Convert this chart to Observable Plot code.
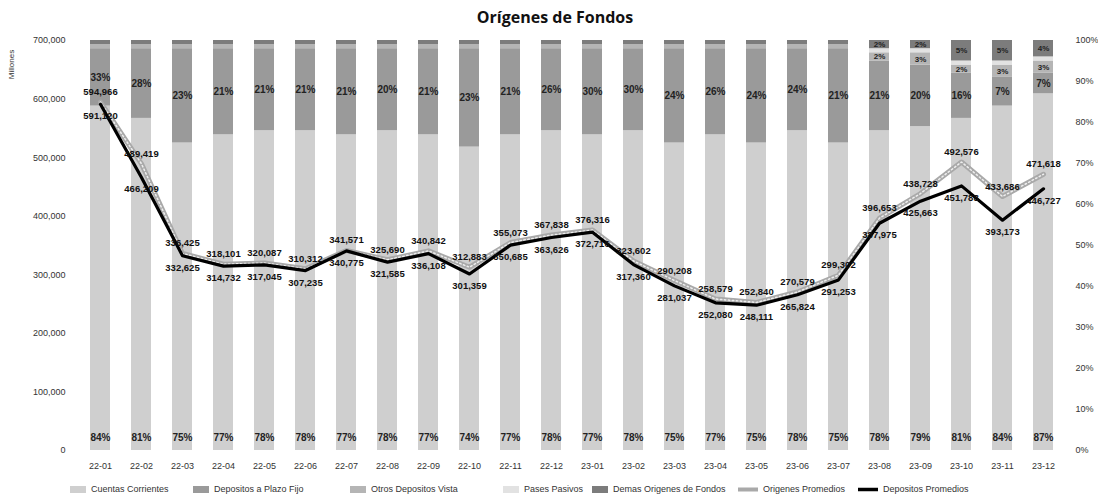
<!DOCTYPE html>
<html><head><meta charset="utf-8">
<script src="https://cdn.jsdelivr.net/npm/d3@7"></script>
<script src="https://cdn.jsdelivr.net/npm/@observablehq/plot@0.6"></script>
<style>
body{margin:0;background:#fff;font-family:"Liberation Sans",Arial,sans-serif;}
#wrap{position:relative;width:1098px;height:502px;overflow:hidden;}
#title{position:absolute;top:6px;left:0;width:1110px;text-align:center;font:bold 16px "Open Sans",sans-serif;color:#111;}
#chart{position:absolute;top:32px;left:0;}
#legend{position:absolute;top:482px;left:0;width:1098px;height:18px;font-size:9px;color:#333;}
.item{position:absolute;top:2px;display:flex;align-items:center;gap:5px;white-space:nowrap;}
</style></head><body>
<div id="wrap">
<div id="title">Orígenes de Fondos</div>
<div id="chart"></div>
<div id="legend"></div>
</div>
<script>
const months = ["22-01","22-02","22-03","22-04","22-05","22-06","22-07","22-08","22-09","22-10","22-11","22-12","23-01","23-02","23-03","23-04","23-05","23-06","23-07","23-08","23-09","23-10","23-11","23-12"];
// stacked shares (%)
const cuentasCorrientes   = [84,81,75,77,78,78,77,78,77,74,77,78,77,78,75,77,75,78,75,78,79,81,84,87];
const depositosPlazoFijo  = [14,17,23,21,20,20,21,20,21,24,21,20,21,20,23,21,23,20,23,17,15,11, 7, 5];
const otrosDepositosVista = [ 1, 1, 1, 1, 1, 1, 1, 1, 1, 1, 1, 1, 1, 1, 1, 1, 1, 1, 1, 2, 3, 2, 3, 3];
const pasesPasivos        = [ 0, 0, 0, 0, 0, 0, 0, 0, 0, 0, 0, 0, 0, 0, 0, 0, 0, 0, 0, 1, 1, 1, 1, 1];
const demasOrigenes       = [ 1, 1, 1, 1, 1, 1, 1, 1, 1, 1, 1, 1, 1, 1, 1, 1, 1, 1, 1, 2, 2, 5, 5, 4];
const topLabels = ["33%","28%","23%","21%","21%","21%","21%","20%","21%","23%","21%","26%","30%","30%","24%","26%","24%","24%","21%","21%","20%","16%","7%","7%"];
// averages (millions)
const origenesPromedios   = [594966,489419,336425,318101,320087,310312,341571,325690,340842,312883,355073,367838,376316,323602,290208,258579,252840,270579,299302,396653,438728,492576,433686,471618];
const depositosPromedios  = [591120,466209,332625,314732,317045,307235,340775,321585,336108,301359,350685,363626,372716,317360,281037,252080,248111,265824,291253,387975,425663,451788,393173,446727];

const seriesNames  = ["Cuentas Corrientes","Depositos a Plazo Fijo","Otros Depositos Vista","Pases Pasivos","Demas Origenes de Fondos"];
const seriesColors = ["#cfcfcf","#9a9a9a","#b5b5b5","#e2e2e2","#7c7c7c"];
const leftTicks  = [0,100000,200000,300000,400000,500000,600000,700000];
const rightTicks = [0,10,20,30,40,50,60,70,80,90,100];

const K = 7000; // 100% == 700,000 on the shared vertical scale
const shares = [cuentasCorrientes, depositosPlazoFijo, otrosDepositosVista, pasesPasivos, demasOrigenes];
const rows = months.flatMap((m,i) => shares.map((arr,k) => ({month:m, series:seriesNames[k], pct:arr[i], idx:i, k})));
const cum = (i,k) => shares.slice(0,k).reduce((s,a)=>s+a[i],0);
const smallLabels = rows.filter(r => (r.k===2 || r.k===4) && r.pct >= 2);
const fmt = d3.format(",");
const idx = months.map((m,i)=>i);

const chart = Plot.plot({
  width:1098, height:448,
  marginLeft:75, marginRight:30, marginTop:8, marginBottom:30,
  x:{domain:months, paddingInner:0.52, paddingOuter:0.2, axis:null},
  y:{domain:[0,700000], axis:null},
  color:{domain:seriesNames, range:seriesColors},
  style:{fontFamily:"'Liberation Sans', Arial, sans-serif", fontSize:"9px", color:"#333", background:"white"},
  marks:[
    Plot.barY(rows, {x:"month", y:d=>d.pct*K, fill:"series"}),
    Plot.axisX({tickSize:0, tickPadding:12, fontSize:9, label:null}),
    Plot.axisY({ticks:leftTicks, tickFormat:fmt, tickSize:0, tickPadding:10, label:null}),
    Plot.axisY({anchor:"right", ticks:rightTicks.map(t=>t*K), tickFormat:d=>Math.round(d/K)+"%", tickSize:0, tickPadding:7, label:null}),
    Plot.text(["Millones"], {frameAnchor:"top-left", dx:-64, dy:24, rotate:-90, textAnchor:"middle", lineAnchor:"middle", fontSize:8, fill:"#333"}),
    // bar labels
    Plot.text(idx, {x:i=>months[i], y:()=>3*K, text:i=>cuentasCorrientes[i]+"%", fontWeight:"bold", fontSize:10, fill:"#222"}),
    Plot.text(idx, {x:i=>months[i], y:i=>(cum(i,1)+depositosPlazoFijo[i]/2)*K, text:i=>topLabels[i], fontWeight:"bold", fontSize:10, fill:"#222"}),
    Plot.text(smallLabels, {x:"month", y:r=>(cum(r.idx,r.k)+r.pct/2)*K, text:r=>r.pct+"%", fontWeight:"bold", fontSize:8, fill:"#222"}),
    // lines
    Plot.line(idx, {x:i=>months[i], y:i=>origenesPromedios[i], stroke:"#a9a9a9", strokeWidth:5}),
    Plot.line(idx, {x:i=>months[i], y:i=>origenesPromedios[i], stroke:"#eeeeee", strokeWidth:1.5, strokeDasharray:"1.5 2.5"}),
    Plot.line(idx, {x:i=>months[i], y:i=>depositosPromedios[i], stroke:"#000", strokeWidth:3.2}),
    Plot.text(idx, {x:i=>months[i], y:i=>origenesPromedios[i], text:i=>fmt(origenesPromedios[i]), dy:-10, fontWeight:"bold", fontSize:9.5, fill:"#111"}),
    Plot.text(idx, {x:i=>months[i], y:i=>depositosPromedios[i], text:i=>fmt(depositosPromedios[i]), dy:12, fontWeight:"bold", fontSize:9.5, fill:"#111"})
  ]
});
document.getElementById("chart").appendChild(chart);

// legend
const legendItems = [
  {name:seriesNames[0], type:"box", color:seriesColors[0], left:70},
  {name:seriesNames[1], type:"box", color:seriesColors[1], left:193},
  {name:seriesNames[2], type:"box", color:seriesColors[2], left:350},
  {name:seriesNames[3], type:"box", color:seriesColors[3], left:503},
  {name:seriesNames[4], type:"box", color:seriesColors[4], left:592},
  {name:"Origenes Promedios", type:"gline", left:738},
  {name:"Depositos Promedios", type:"bline", left:858}
];
const lg = document.getElementById("legend");
legendItems.forEach(it => {
  const d = document.createElement("div");
  d.className = "item"; d.style.left = it.left + "px";
  let sw;
  if (it.type === "box") sw = `<svg width="16" height="9"><rect x="0" y="1" width="16" height="7" fill="${it.color}"/></svg>`;
  else if (it.type === "gline") sw = `<svg width="20" height="9"><line x1="0" x2="20" y1="4.5" y2="4.5" stroke="#a9a9a9" stroke-width="4"/></svg>`;
  else sw = `<svg width="20" height="9"><line x1="0" x2="20" y1="4.5" y2="4.5" stroke="#000" stroke-width="3.5"/></svg>`;
  d.innerHTML = sw + `<span>${it.name}</span>`;
  lg.appendChild(d);
});
</script>
</body></html>
